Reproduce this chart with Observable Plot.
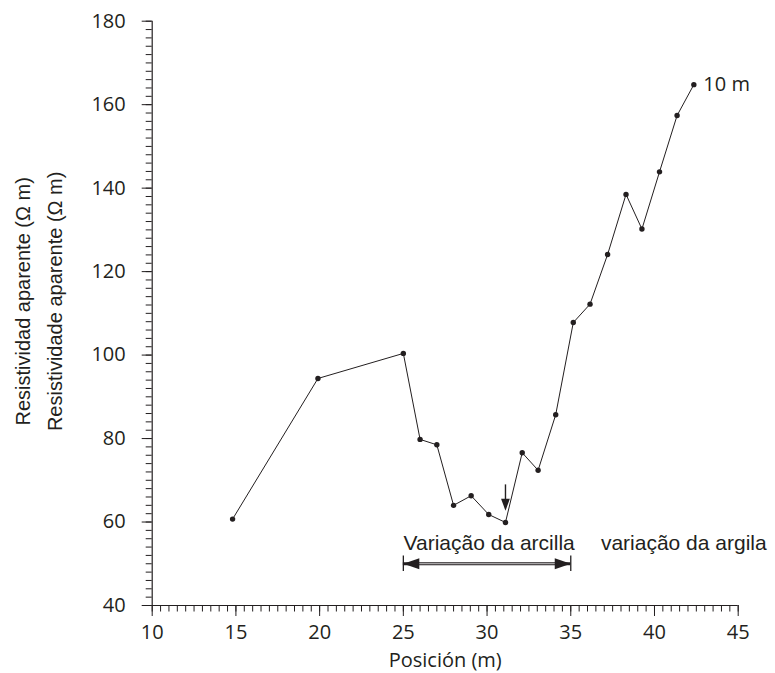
<!DOCTYPE html>
<html>
<head>
<meta charset="utf-8">
<script src="https://cdn.jsdelivr.net/npm/d3@7"></script>
<script src="https://cdn.jsdelivr.net/npm/@observablehq/plot@0.6"></script>
<style>
  html, body { margin: 0; padding: 0; background: #fff; }
  svg { display: block; }
</style>
</head>
<body>
<div id="chart"></div>
<script>
// Data
const positions = [14.8, 19.9, 25.0, 26.0, 27.0, 28.0, 29.05, 30.1, 31.1, 32.1, 33.05, 34.1, 35.15, 36.15, 37.2, 38.3, 39.25, 40.3, 41.35, 42.35];
const resistivity = [60.7, 94.4, 100.4, 79.8, 78.5, 64.0, 66.3, 61.8, 59.9, 76.6, 72.4, 85.7, 107.8, 112.2, 124.1, 138.5, 130.2, 143.9, 157.4, 164.8];

const xTicks = [10, 15, 20, 25, 30, 35, 40, 45];
const yTicks = [40, 60, 80, 100, 120, 140, 160, 180];
const xMinor = d3.range(10, 45.001, 0.5);
const yMinor = d3.range(40, 180.001, 2);

const xTitle = "Posición (m)";
const yTitle = "Resistividad aparente (Ω m)\nResistividade aparente (Ω m)";
const seriesLabel = "10 m";

// Annotation
const spanStart = [25];
const spanEnd = [35];
const spanLevel = 50;
const spanLabelLeft = ["Variação da arcilla"];
const spanLabelRight = ["variação da argila"];
const spanLabelLeftX = 35;
const spanLabelRightX = 36.8;
const spanLabelY = 53.4;
const markerX = 31.1;
const markerTop = 68.9;
const markerTip = 62.7;

const ink = "#231f20";
const data = positions.map((x, i) => ({x, y: resistivity[i]}));

const headRight = {draw(ctx) { ctx.moveTo(0, 0); ctx.lineTo(-16, -5.5); ctx.lineTo(-16, 5.5); ctx.closePath(); }};
const headLeft = {draw(ctx) { ctx.moveTo(0, 0); ctx.lineTo(16, -5.5); ctx.lineTo(16, 5.5); ctx.closePath(); }};
const headDown = {draw(ctx) { ctx.moveTo(0, 0); ctx.lineTo(-4.4, -12); ctx.lineTo(4.4, -12); ctx.closePath(); }};

const sans = "'Liberation Sans', Arial, sans-serif";

const chart = Plot.plot({
  width: 775,
  height: 673,
  marginLeft: 151.7,
  marginRight: 37.3,
  marginTop: 20.7,
  marginBottom: 68,
  style: {fontFamily: "'Open Sans', sans-serif", fontSize: "20px", color: ink, background: "#fff"},
  x: {domain: [10, 45]},
  y: {domain: [40, 180]},
  marks: [
    // minor ticks
    Plot.axisX({ticks: xMinor, tickSize: 6.5, tickFormat: () => "", label: null, stroke: ink}),
    Plot.axisY({ticks: yMinor, tickSize: 6, tickFormat: () => "", label: null, stroke: ink}),
    // major ticks + labels
    Plot.axisX({ticks: xTicks, tickSize: 11, tickPadding: 8, label: null, fontSize: 20, fill: ink, stroke: ink}),
    Plot.axisY({ticks: yTicks, tickSize: 10, tickPadding: 16.5, label: null, fontSize: 20, fill: ink, stroke: ink}),
    // axis lines
    Plot.ruleX([10], {y1: 40, y2: 180, stroke: ink, strokeWidth: 1.2}),
    Plot.ruleY([40], {x1: 10, x2: 45, stroke: ink, strokeWidth: 1.2}),
    // axis titles
    Plot.text([xTitle], {frameAnchor: "bottom", dy: 55, lineAnchor: "middle", fontSize: 20, fill: ink}),
    Plot.text([yTitle], {frameAnchor: "left", textAnchor: "middle", dx: -116, dy: -12, rotate: -90, lineAnchor: "middle", lineHeight: 1.6, fontSize: 20, fontFamily: sans, fill: ink}),
    // data
    Plot.line(data, {x: "x", y: "y", stroke: ink, strokeWidth: 1}),
    Plot.dot(data, {x: "x", y: "y", r: 2.7, fill: ink, stroke: "none"}),
    Plot.text(data, Plot.selectLast({x: "x", y: "y", text: () => seriesLabel, textAnchor: "start", dx: 9.5, fontSize: 20, fill: ink})),
    // span arrow
    Plot.ruleY([spanLevel], {x1: spanStart[0], x2: spanEnd[0], stroke: ink, strokeWidth: 3}),
    Plot.ruleY([spanLevel], {x1: spanStart[0] + 0.9, x2: spanEnd[0] - 0.9, stroke: "#fff", strokeWidth: 0.8}),
    Plot.ruleX(spanStart.concat(spanEnd), {y1: spanLevel - 1.85, y2: spanLevel + 1.85, stroke: ink, strokeWidth: 1.3}),
    Plot.dot(spanStart, {x: d => d, y: () => spanLevel, symbol: headLeft, fill: ink, stroke: "none", r: 5}),
    Plot.dot(spanEnd, {x: d => d, y: () => spanLevel, symbol: headRight, fill: ink, stroke: "none", r: 5}),
    Plot.text(spanLabelLeft, {x: () => spanLabelLeftX, y: () => spanLabelY, text: d => d, textAnchor: "end", lineAnchor: "bottom", dx: 4, fontSize: 21, fontFamily: sans, fill: ink}),
    Plot.text(spanLabelRight, {x: () => spanLabelRightX, y: () => spanLabelY, text: d => d, textAnchor: "start", lineAnchor: "bottom", fontSize: 21, fontFamily: sans, fill: ink}),
    // minimum marker arrow
    Plot.ruleX([markerX], {y1: markerTop, y2: markerTip + 2, stroke: ink, strokeWidth: 1.4}),
    Plot.dot([markerX], {x: d => d, y: () => markerTip, symbol: headDown, fill: ink, stroke: "none", r: 5})
  ]
});

document.getElementById("chart").appendChild(chart);
</script>
</body>
</html>
